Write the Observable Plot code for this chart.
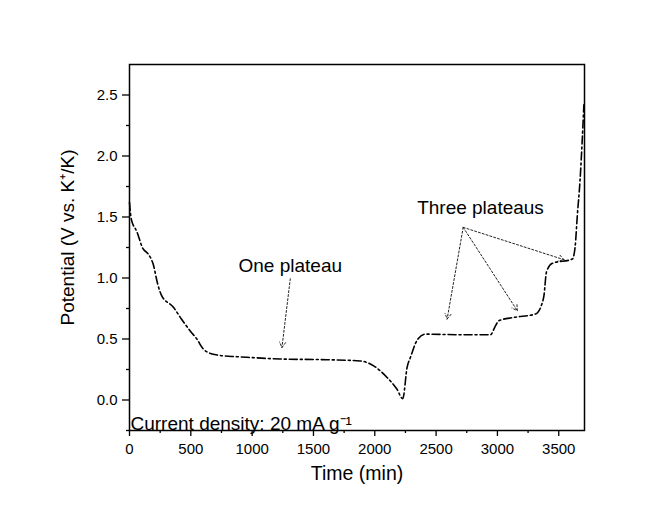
<!DOCTYPE html>
<html>
<head>
<meta charset="utf-8">
<script src="https://cdn.jsdelivr.net/npm/d3@7"></script>
<script src="https://cdn.jsdelivr.net/npm/@observablehq/plot@0.6"></script>
<style>
  html, body { margin: 0; padding: 0; background: #ffffff; }
  svg { font-family: "Liberation Sans", Arial, sans-serif; }
</style>
</head>
<body>
<div id="chart"></div>
<script>
const time = [0, 15, 60, 110, 150, 194, 230, 260, 358, 426, 500, 549, 600, 640, 739, 875, 957, 1229, 1610, 1882, 1991, 2100, 2180, 2228, 2264, 2291, 2345, 2413, 2700, 2944, 2980, 3012, 3134, 3311, 3360, 3380, 3400, 3448, 3611, 3633, 3652, 3673, 3690, 3705];
const potential = [1.62, 1.48, 1.38, 1.24, 1.20, 1.11, 0.95, 0.86, 0.76, 0.66, 0.56, 0.50, 0.42, 0.39, 0.365, 0.355, 0.35, 0.336, 0.33, 0.32, 0.28, 0.185, 0.09, 0.01, 0.27, 0.35, 0.49, 0.54, 0.535, 0.535, 0.60, 0.65, 0.677, 0.705, 0.78, 0.86, 1.05, 1.12, 1.155, 1.25, 1.52, 1.79, 2.1, 2.42];

const xMajor = [0, 500, 1000, 1500, 2000, 2500, 3000, 3500];
const xMinor = [250, 750, 1250, 1750, 2250, 2750, 3250];
const yMajor = [0, 0.5, 1.0, 1.5, 2.0, 2.5];
const yMinor = [-0.25, 0.25, 0.75, 1.25, 1.75, 2.25];

const labels = [
  {text: "One plateau", x: 1311, y: 1.10},
  {text: "Three plateaus", x: 2862, y: 1.577}
];
const arrows = [
  {x1: 1311, y1: 0.994, x2: 1243, y2: 0.43},
  {x1: 2721, y1: 1.415, x2: 2590, y2: 0.664},
  {x1: 2721, y1: 1.415, x2: 3162, y2: 0.732},
  {x1: 2721, y1: 1.415, x2: 3543, y2: 1.15}
];
const note = "Current density: 20 mA g\u207B\u00B9";

const data = time.map((t, i) => ({t, v: potential[i]}));

const chart = Plot.plot({
  width: 664,
  height: 508,
  marginLeft: 129,
  marginRight: 80,
  marginTop: 64,
  marginBottom: 78,
  style: {background: "#ffffff", fontFamily: "'Liberation Sans', Arial, sans-serif"},
  x: {domain: [0, 3710]},
  y: {domain: [-0.25, 2.75]},
  marks: [
    Plot.line(data, {x: "t", y: "v", stroke: "black", strokeWidth: 1.6, strokeDasharray: "8,3,2,3", curve: "monotone-x"}),
    Plot.arrow(arrows, {x1: "x1", y1: "y1", x2: "x2", y2: "y2", stroke: "#222", strokeWidth: 1, strokeDasharray: "2,2", headLength: 9, bend: 0}),
    Plot.text(labels, {x: "x", y: "y", text: "text", fontSize: 19, fill: "black"}),
    Plot.text([note], {frameAnchor: "bottom-left", dx: 1, dy: -1, fontSize: 19, fill: "black", textAnchor: "start", lineAnchor: "bottom"}),
    Plot.axisX({ticks: xMajor, tickSize: 6, tickPadding: 7, tickFormat: d => String(d), fontSize: 15, label: null, stroke: "black", strokeWidth: 1.3, color: "black"}),
    Plot.axisX({ticks: xMinor, tickSize: 3, tickFormat: () => "", label: null, stroke: "black", strokeWidth: 1.3}),
    Plot.axisY({ticks: yMajor, tickSize: 7, tickPadding: 5, tickFormat: d3.format(".1f"), fontSize: 15, label: null, stroke: "black", strokeWidth: 1.3, color: "black"}),
    Plot.axisY({ticks: yMinor, tickSize: 3, tickFormat: () => "", label: null, stroke: "black", strokeWidth: 1.3}),
    Plot.text(["Time (min)"], {frameAnchor: "bottom", dy: 49, fontSize: 19.5, fill: "black", textAnchor: "middle"}),
    Plot.text(["Potential (V vs. K\u207A/K)"], {frameAnchor: "left", dx: -62, dy: -10, rotate: -90, fontSize: 19, fill: "black", textAnchor: "middle"}),
    Plot.frame({stroke: "black", strokeWidth: 1.5})
  ]
});
document.getElementById("chart").appendChild(chart);
</script>
</body>
</html>
